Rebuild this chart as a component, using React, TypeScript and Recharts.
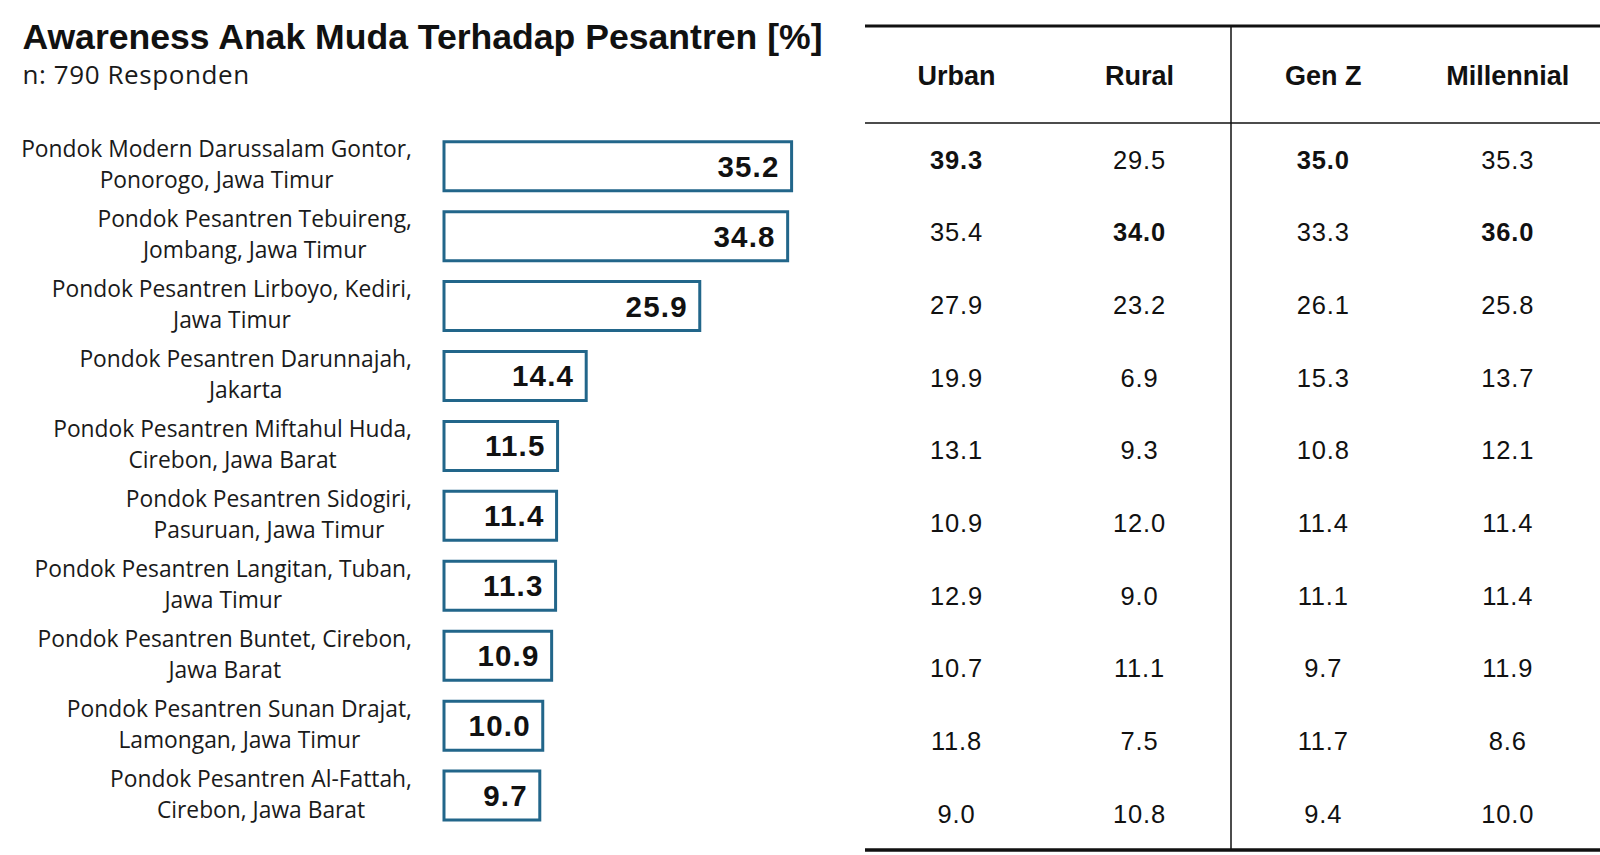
import React from "react";
import { BarChart, Bar, XAxis, YAxis, LabelList } from "recharts";

const categoryLines: string[][] = [
  ["Pondok Modern Darussalam Gontor,", "Ponorogo, Jawa Timur"],
  ["Pondok Pesantren Tebuireng,", "Jombang, Jawa Timur"],
  ["Pondok Pesantren Lirboyo, Kediri,", "Jawa Timur"],
  ["Pondok Pesantren Darunnajah,", "Jakarta"],
  ["Pondok Pesantren Miftahul Huda,", "Cirebon, Jawa Barat"],
  ["Pondok Pesantren Sidogiri,", "Pasuruan, Jawa Timur"],
  ["Pondok Pesantren Langitan, Tuban,", "Jawa Timur"],
  ["Pondok Pesantren Buntet, Cirebon,", "Jawa Barat"],
  ["Pondok Pesantren Sunan Drajat,", "Lamongan, Jawa Timur"],
  ["Pondok Pesantren Al-Fattah,", "Cirebon, Jawa Barat"],
];

const awareness = [35.2, 34.8, 25.9, 14.4, 11.5, 11.4, 11.3, 10.9, 10.0, 9.7];

const tableHeaders = ["Urban", "Rural", "Gen Z", "Millennial"];
const urban = [39.3, 35.4, 27.9, 19.9, 13.1, 10.9, 12.9, 10.7, 11.8, 9.0];
const rural = [29.5, 34.0, 23.2, 6.9, 9.3, 12.0, 9.0, 11.1, 7.5, 10.8];
const genZ = [35.0, 33.3, 26.1, 15.3, 10.8, 11.4, 11.1, 9.7, 11.7, 9.4];
const millennial = [35.3, 36.0, 25.8, 13.7, 12.1, 11.4, 11.4, 11.9, 8.6, 10.0];

const TITLE = "Awareness Anak Muda Terhadap Pesantren [%]";
const SUBTITLE = "n: 790 Responden";

const BAR_COLOR = "#22668a";
const LABEL_FONT = "'Open Sans', 'Noto Sans', sans-serif";
const NUM_FONT = "'Liberation Sans', Arial, sans-serif";
const LABEL_SIZE = 22.8;

const chartData = categoryLines.map((lines, i) => ({
  name: lines.join("|"),
  value: awareness[i],
}));

const tableColumns = [urban, rural, genZ, millennial];

let measureCtx: CanvasRenderingContext2D | null = null;
function textWidth(s: string) {
  if (!measureCtx) {
    measureCtx = document.createElement("canvas").getContext("2d");
  }
  if (!measureCtx) return s.length * LABEL_SIZE * 0.55;
  measureCtx.font = `${LABEL_SIZE}px 'Open Sans'`;
  return measureCtx.measureText(s).width;
}

function CategoryTick(props: any) {
  const { x, y, payload } = props;
  const lines = String(payload.value).split("|");
  // lines are centred on each other, block is right aligned
  const blockW = Math.max(...lines.map(textWidth));
  const cx = x - blockW / 2;
  return (
    <text
      x={cx}
      y={y}
      textAnchor="middle"
      fill="#1a1a1a"
      fontFamily={LABEL_FONT}
      fontSize={LABEL_SIZE}
    >
      <tspan x={cx} y={y - 9.4}>
        {lines[0]}
      </tspan>
      <tspan x={cx} y={y + 21.6}>
        {lines[1]}
      </tspan>
    </text>
  );
}

function ValueLabel(props: any) {
  const { x, y, width, height, value } = props;
  return (
    <text
      x={x + width - 12}
      y={y + height / 2 + 10.5}
      textAnchor="end"
      fill="#111"
      fontFamily={NUM_FONT}
      fontWeight="bold"
      fontSize={29.5}
      letterSpacing={1.2}
    >
      {Number(value).toFixed(1)}
    </text>
  );
}

function DataTable() {
  const left = 865;
  const right = 1600;
  const mid = 1231;
  const top = 26;
  const headerLine = 123;
  const bottom = 850;
  const rowH = (bottom - headerLine) / awareness.length;
  const colCenters = [
    left + (mid - left) / 4,
    left + ((mid - left) * 3) / 4,
    mid + (right - mid) / 4,
    mid + ((right - mid) * 3) / 4,
  ];
  return (
    <svg
      width={1600}
      height={855}
      style={{ position: "absolute", left: 0, top: 0 }}
    >
      <text
        x={22.4}
        y={49}
        fontFamily={NUM_FONT}
        fontWeight="bold"
        fontSize={35.6}
        fill="#111"
      >
        {TITLE}
      </text>
      <text
        x={22.4}
        y={83.7}
        fontFamily={LABEL_FONT}
        fontSize={26}
        letterSpacing={0.6}
        fill="#1a1a1a"
      >
        {SUBTITLE}
      </text>

      <line x1={left} x2={right} y1={top} y2={top} stroke="#111" strokeWidth={3} />
      <line x1={left} x2={right} y1={headerLine} y2={headerLine} stroke="#111" strokeWidth={1.5} />
      <line x1={left} x2={right} y1={bottom} y2={bottom} stroke="#111" strokeWidth={3.3} />
      <line x1={mid} x2={mid} y1={top} y2={bottom} stroke="#111" strokeWidth={1.5} />

      {tableHeaders.map((h, c) => (
        <text
          key={h}
          x={colCenters[c]}
          y={85}
          textAnchor="middle"
          fontFamily={NUM_FONT}
          fontWeight="bold"
          fontSize={27}
          fill="#111"
        >
          {h}
        </text>
      ))}

      {tableColumns.map((col, c) => {
        const max = Math.max(...col);
        return col.map((v, r) => (
          <text
            key={`${c}-${r}`}
            x={colCenters[c]}
            y={headerLine + rowH * (r + 0.5) + 9.2}
            textAnchor="middle"
            fontFamily={NUM_FONT}
            fontWeight={v === max ? "bold" : "normal"}
            fontSize={25.5}
            letterSpacing={0.8}
            fill="#111"
          >
            {v.toFixed(1)}
          </text>
        ));
      })}
    </svg>
  );
}

export default function App() {
  return (
    <div
      style={{
        position: "absolute",
        left: 0,
        top: 0,
        width: 1600,
        height: 855,
        background: "#fff",
        overflow: "hidden",
      }}
    >
      <div style={{ position: "absolute", left: 0, top: 0 }}>
        <BarChart
          width={850}
          height={855}
          data={chartData}
          layout="vertical"
          margin={{ top: 131.7, right: 11, bottom: 24, left: 0 }}
        >
          <XAxis type="number" domain={[0, 40]} hide />
          <YAxis
            type="category"
            dataKey="name"
            width={444}
            tickLine={false}
            axisLine={false}
            tickMargin={26}
            interval={0}
            tick={<CategoryTick />}
          />
          <Bar
            dataKey="value"
            fill="#fff"
            stroke={BAR_COLOR}
            strokeWidth={3}
            barSize={49}
            isAnimationActive={false}
          >
            <LabelList dataKey="value" content={<ValueLabel />} />
          </Bar>
        </BarChart>
      </div>
      <DataTable />
    </div>
  );
}
